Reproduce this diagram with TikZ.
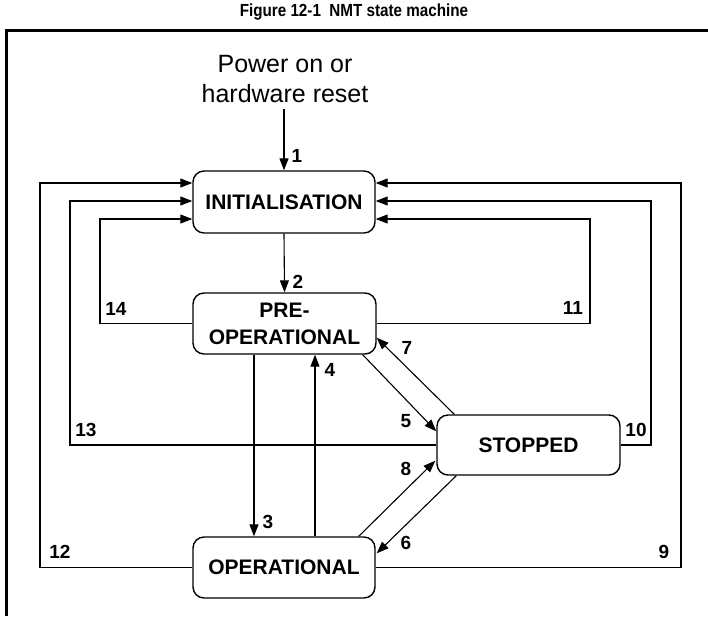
\documentclass[tikz,border=0pt]{standalone}
\usepackage{fontspec}
\setmainfont{Liberation Sans}
\usetikzlibrary{arrows.meta,calc}
\begin{document}
\begin{tikzpicture}[x=1pt,y=-1pt,
  state/.style={draw,line width=1.4pt,rounded corners=11pt,align=center,
    font=\fontsize{21}{27}\selectfont\bfseries,inner sep=0pt},
  conn/.style={line width=1.1pt},
  arr/.style={conn,-{Triangle[length=12pt,width=9pt]}},
  lbl/.style={font=\fontsize{19}{21}\selectfont\bfseries,inner sep=0pt}]
\useasboundingbox (0,0) rectangle (708,616);
% title and frame
\node[font=\fontsize{17.5}{20}\selectfont\bfseries,inner sep=0pt] (title) at (354,12) {\scalebox{0.87}[1]{Figure 12-1\ \ NMT state machine}};
\draw[line width=3pt] (6.5,616) -- (6.5,30.5) -- (708,30.5);
% states
\node[state,minimum width=182pt,minimum height=62pt] (INIT) at (284,202) {INITIALISATION};
\node[state,minimum width=183pt,minimum height=61pt] (PRE) at (284.5,323.5) {PRE-\\OPERATIONAL};
\node[state,minimum width=183pt,minimum height=60pt] (STOP) at (528.5,445) {STOPPED};
\node[state,minimum width=182pt,minimum height=61pt] (OPER) at (284,567.5) {OPERATIONAL};
\node[font=\fontsize{25}{30}\selectfont,align=center,inner sep=6pt] (pwr) at (285,79) {Power on or\\hardware reset};
% helper coordinates
\coordinate (xa) at (40,0);
\coordinate (xb) at (70,0);
\coordinate (xc) at (100,0);
\coordinate (xd) at (590,0);
\coordinate (xe) at (651,0);
\coordinate (xf) at (681,0);
\coordinate (ya) at (0,183);
\coordinate (yb) at (0,201);
\coordinate (yc) at (0,219);
\coordinate (x3) at (254,0);
\coordinate (x4) at (315,0);
% transitions
\draw[arr] (pwr.south -| INIT.north) -- (INIT.north);
\draw[arr] (INIT.south) -- (PRE.north);
\draw[arr] (PRE.south -| x3) -- (OPER.north -| x3);
\draw[arr] (OPER.north -| x4) -- (PRE.south -| x4);
\draw[arr] ($(PRE.south east)+(-14,0)$) -- ($(STOP.north west)+(0,17)$);
\draw[arr] ($(STOP.north west)+(18,0)$) -- ($(PRE.south east)+(0,-17)$);
\draw[arr] ($(OPER.north east)+(-17,0)$) -- ($(STOP.south west)+(-1,-15)$);
\draw[arr] ($(STOP.south west)+(20,0)$) -- ($(OPER.north east)+(1,17)$);
\draw[arr] (PRE.west) -- (PRE.west -| xc) -- (xc |- yc) -- (INIT.west |- yc);
\draw[arr] (STOP.west) -- (STOP.west -| xb) -- (xb |- yb) -- (INIT.west |- yb);
\draw[arr] (OPER.west) -- (OPER.west -| xa) -- (xa |- ya) -- (INIT.west |- ya);
\draw[arr] (PRE.east) -- (PRE.east -| xd) -- (xd |- yc) -- (INIT.east |- yc);
\draw[arr] (STOP.east) -- (STOP.east -| xe) -- (xe |- yb) -- (INIT.east |- yb);
\draw[arr] (OPER.east) -- (OPER.east -| xf) -- (xf |- ya) -- (INIT.east |- ya);
% labels
\node[lbl] (l1) at (297,156) {1};
\node[lbl] (l2) at (298,282) {2};
\node[lbl] (l3) at (268,522) {3};
\node[lbl] (l4) at (330,370) {4};
\node[lbl] (l5) at (406,421) {5};
\node[lbl] (l6) at (406,543) {6};
\node[lbl] (l7) at (407,348) {7};
\node[lbl] (l8) at (406,469) {8};
\node[lbl] (l9) at (664,552) {9};
\node[lbl] (l10) at (636,430) {10};
\node[lbl] (l11) at (573,308) {11};
\node[lbl] (l12) at (60,552) {12};
\node[lbl] (l13) at (86,430) {13};
\node[lbl] (l14) at (116,309) {14};
\end{tikzpicture}
\end{document}
